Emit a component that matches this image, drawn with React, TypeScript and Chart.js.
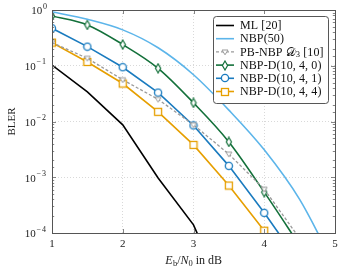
import React, { useEffect, useRef } from 'react';
import { Chart, registerables } from 'chart.js';

Chart.register(...registerables);

// ---- data ----
const snrDb = [1, 1.5, 2, 2.5, 3, 3.5, 4, 4.5, 5];
const mlBler = [0.103, 0.034, 0.0087, 0.00097, 0.00014, 0.000005];
const nbp50Bler = [0.93, 0.68, 0.44, 0.21, 0.069, 0.016, 0.0031, 0.0004, 0.000025];
const pbNbpBler = [0.26, 0.136, 0.056, 0.025, 0.0087, 0.0026, 0.00061, 0.00008];
const nbpD0Bler = [0.78, 0.54, 0.24, 0.09, 0.0216, 0.0043, 0.00054, 0.00006];
const nbpD1Bler = [0.47, 0.22, 0.094, 0.033, 0.0085, 0.0016, 0.00023, 0.000029];
const nbpD4Bler = [0.26, 0.117, 0.048, 0.0149, 0.0038, 0.00071, 0.00011];
const xTickValues = [1, 2, 3, 4, 5];
const yExponents = [0, -1, -2, -3, -4];
const seriesLabels = ['ML [20]', 'NBP(50)', 'PB-NBP 𝒟₃ [10]', 'NBP-D(10, 4, 0)', 'NBP-D(10, 4, 1)', 'NBP-D(10, 4, 4)'];

const SERIF = '"Liberation Serif", "DejaVu Serif", serif';

function toPoints(vals: number[]) {
  return vals.map((v, i) => ({ x: snrDb[i], y: v }));
}

function makeMarker(kind: string, color: string): HTMLCanvasElement {
  const c = document.createElement('canvas');
  const ctx = c.getContext('2d')!;
  if (kind === 'circle') {
    c.width = 10; c.height = 10;
    ctx.beginPath(); ctx.arc(5, 5, 3.6, 0, Math.PI * 2);
    ctx.fillStyle = '#fff'; ctx.fill();
    ctx.lineWidth = 1.3; ctx.strokeStyle = color; ctx.stroke();
  } else if (kind === 'square') {
    c.width = 10; c.height = 10;
    ctx.fillStyle = '#fff'; ctx.fillRect(1.5, 1.5, 7, 7);
    ctx.lineWidth = 1.3; ctx.strokeStyle = color; ctx.strokeRect(1.5, 1.5, 7, 7);
  } else if (kind === 'diamond') {
    c.width = 8; c.height = 11;
    ctx.beginPath(); ctx.moveTo(4, 1); ctx.lineTo(6.6, 5.5); ctx.lineTo(4, 10); ctx.lineTo(1.4, 5.5); ctx.closePath();
    ctx.fillStyle = '#fff'; ctx.fill();
    ctx.lineWidth = 1.2; ctx.strokeStyle = color; ctx.stroke();
  } else {
    c.width = 8; c.height = 8;
    ctx.beginPath(); ctx.moveTo(1, 2); ctx.lineTo(7, 2); ctx.lineTo(4, 6.8); ctx.closePath();
    ctx.fillStyle = '#fff'; ctx.fill();
    ctx.lineWidth = 1; ctx.strokeStyle = color; ctx.stroke();
  }
  return c;
}

const decorPlugin = {
  id: 'decor',
  afterDatasetsDraw(chart: any) {
    const { ctx, chartArea, scales } = chart;
    const { left, right, top, bottom } = chartArea;
    const ys = scales.y;
    const xs = scales.x;
    ctx.save();
    // inner ticks
    ctx.strokeStyle = '#666';
    ctx.lineWidth = 0.8;
    for (const t of ys.ticks) {
      const v = t.value;
      const e = Math.log10(v);
      const major = Math.abs(e - Math.round(e)) < 1e-6;
      const py = Math.round(ys.getPixelForValue(v)) + 0.5;
      const len = major ? 4 : 2.2;
      ctx.beginPath();
      ctx.moveTo(left, py); ctx.lineTo(left + len, py);
      ctx.moveTo(right, py); ctx.lineTo(right - len, py);
      ctx.stroke();
    }
    for (const xv of xTickValues) {
      const px = Math.round(xs.getPixelForValue(xv)) + 0.5;
      ctx.beginPath();
      ctx.moveTo(px, bottom); ctx.lineTo(px, bottom - 4);
      ctx.moveTo(px, top); ctx.lineTo(px, top + 4);
      ctx.stroke();
    }
    // frame
    ctx.strokeStyle = '#555';
    ctx.lineWidth = 1;
    ctx.strokeRect(Math.round(left) + 0.5, Math.round(top) + 0.5, Math.round(right - left), Math.round(bottom - top));

    // y tick labels
    ctx.fillStyle = '#222';
    ctx.textBaseline = 'middle';
    for (const e of yExponents) {
      const py = ys.getPixelForValue(Math.pow(10, e));
      const sup = e === 0 ? '0' : '\u2212' + String(-e);
      ctx.font = '8px ' + SERIF;
      (ctx as any).letterSpacing = e === 0 ? '0px' : '1px';
      const sw = ctx.measureText(sup).width;
      const supX = 47 - sw;
      ctx.textAlign = 'left';
      ctx.fillText(sup, supX, py - 3.5);
      (ctx as any).letterSpacing = '0px';
      ctx.font = '11px ' + SERIF;
      ctx.textAlign = 'right';
      ctx.fillText('10', supX - 0.8, py + 1.5);
    }

    // y title
    ctx.save();
    ctx.translate(12, (top + bottom) / 2);
    ctx.rotate(-Math.PI / 2);
    ctx.textAlign = 'center';
    ctx.font = '11px ' + SERIF;
    ctx.fillText('BLER', 0, 0);
    ctx.restore();

    // x title: E_b / N_0 in dB
    const parts: [string, string, number][] = [
      ['E', 'italic 12px ' + SERIF, 0],
      ['b', '8.5px ' + SERIF, 2.5],
      ['/', '12px ' + SERIF, 0],
      ['N', 'italic 12px ' + SERIF, 0],
      ['0', '8.5px ' + SERIF, 2.5],
      [' in dB', '12px ' + SERIF, 0],
    ];
    let total = 0;
    const widths: number[] = [];
    for (const [s, f] of parts) { ctx.font = f; const w = ctx.measureText(s).width; widths.push(w); total += w; }
    let cx = (left + right) / 2 - total / 2;
    const ty = 261;
    ctx.textAlign = 'left';
    parts.forEach(([s, f, dy], i) => {
      ctx.font = f;
      ctx.fillText(s, cx, ty + dy);
      cx += widths[i] + (i === 0 ? 0.3 : 0);
    });

    // legend
    const bx = 213.5, by = 16.5, bw = 115, bh = 87;
    ctx.beginPath();
    (ctx as any).roundRect(bx, by, bw, bh, 3);
    ctx.fillStyle = '#fff';
    ctx.fill();
    ctx.strokeStyle = '#444';
    ctx.lineWidth = 0.9;
    ctx.stroke();
    chart.data.datasets.forEach((ds: any, i: number) => {
      const ly = 25.5 + i * 13.2;
      ctx.save();
      ctx.strokeStyle = ds.borderColor;
      ctx.lineWidth = ds.borderWidth;
      ctx.setLineDash(ds.borderDash || []);
      ctx.beginPath();
      ctx.moveTo(216, ly); ctx.lineTo(234, ly);
      ctx.stroke();
      ctx.restore();
      if (ds.legendMarker) {
        const m = ds.legendMarker as HTMLCanvasElement;
        ctx.drawImage(m, Math.round(225 - m.width / 2), Math.round(ly - m.height / 2));
      }
      ctx.fillStyle = '#111';
      ctx.textAlign = 'left';
      ctx.textBaseline = 'middle';
      (ctx as any).letterSpacing = '0.1px';
      const label = seriesLabels[i];
      if (label.includes('𝒟')) {
        let tx = 240;
        const segs: [string, string, number][] = [
          ['PB-NBP ', '12px ' + SERIF, 0],
          ['\u{1D49F}', '12px "DejaVu Sans", "DejaVu Serif", serif', 0],
          ['3', '8.5px ' + SERIF, 2.5],
          [' [10]', '12px ' + SERIF, 0],
        ];
        for (const [s, f, dy] of segs) {
          ctx.font = f;
          ctx.fillText(s, tx, ly + 0.5 + dy);
          tx += ctx.measureText(s).width;
        }
      } else {
        ctx.font = '12px ' + SERIF;
        ctx.fillText(label, 240, ly + 0.5);
      }
      (ctx as any).letterSpacing = '0px';
    });
    ctx.restore();
  },
};

export default function App() {
  const ref = useRef<HTMLCanvasElement | null>(null);
  useEffect(() => {
    const canvas = ref.current!;
    const colors = {
      ml: '#000000',
      nbp50: '#5cb5ea',
      pb: '#9a9a9a',
      d0: '#13703a',
      d1: '#1a7bbf',
      d4: '#e69f00',
    };
    const mk = {
      pb: makeMarker('triangle', colors.pb),
      d0: makeMarker('diamond', colors.d0),
      d1: makeMarker('circle', colors.d1),
      d4: makeMarker('square', colors.d4),
    };
    const base = { fill: false, pointHoverRadius: 0 };
    const chart = new Chart(canvas, {
      type: 'line',
      data: {
        datasets: [
          { ...base, label: seriesLabels[0], data: toPoints(mlBler), borderColor: colors.ml, borderWidth: 1.6, pointRadius: 0, tension: 0 },
          { ...base, label: seriesLabels[1], data: toPoints(nbp50Bler), borderColor: colors.nbp50, borderWidth: 1.6, pointRadius: 0, cubicInterpolationMode: 'monotone' },
          { ...base, label: seriesLabels[2], data: toPoints(pbNbpBler), borderColor: colors.pb, borderWidth: 1.3, borderDash: [3, 2], pointRadius: 3, pointStyle: mk.pb, legendMarker: mk.pb, tension: 0 },
          { ...base, label: seriesLabels[3], data: toPoints(nbpD0Bler), borderColor: colors.d0, borderWidth: 1.6, pointRadius: 3, pointStyle: mk.d0, legendMarker: mk.d0, cubicInterpolationMode: 'monotone' },
          { ...base, label: seriesLabels[4], data: toPoints(nbpD1Bler), borderColor: colors.d1, borderWidth: 1.6, pointRadius: 3, pointStyle: mk.d1, legendMarker: mk.d1, tension: 0 },
          { ...base, label: seriesLabels[5], data: toPoints(nbpD4Bler), borderColor: colors.d4, borderWidth: 1.6, pointRadius: 3, pointStyle: mk.d4, legendMarker: mk.d4, tension: 0 },
        ] as any,
      },
      options: {
        animation: false,
        responsive: false,
        events: [],
        layout: { padding: { left: 0, top: 10, right: 8, bottom: 0 } },
        plugins: { legend: { display: false }, tooltip: { enabled: false } },
        scales: {
          x: {
            type: 'linear',
            min: 1,
            max: 5,
            afterFit: (s: any) => { s.height = 39; },
            afterBuildTicks: (s: any) => { s.ticks = xTickValues.map((v) => ({ value: v })); },
            ticks: { color: '#222', font: { family: SERIF, size: 11 }, padding: 5, autoSkip: false, maxRotation: 0 },
            grid: {
              drawTicks: false,
              color: (c: any) => (c.tick && (c.tick.value === 1 || c.tick.value === 5) ? 'rgba(0,0,0,0)' : '#cfcfcf'),
              lineWidth: 0.8,
            },
            border: { display: false, dash: [1, 2] },
          },
          y: {
            type: 'logarithmic',
            min: 1e-4,
            max: 1,
            afterFit: (s: any) => { s.width = 52; },
            ticks: { display: false, autoSkip: false },
            grid: {
              drawTicks: false,
              color: (c: any) => {
                const v = c.tick ? c.tick.value : 0;
                const e = Math.log10(v);
                const major = Math.abs(e - Math.round(e)) < 1e-6;
                return major && v !== 1 && v !== 1e-4 ? '#cfcfcf' : 'rgba(0,0,0,0)';
              },
              lineWidth: 0.8,
            },
            border: { display: false, dash: [1, 2] },
          },
        },
      },
      plugins: [decorPlugin],
    });
    return () => chart.destroy();
  }, []);
  return (
    <div style={{ position: 'fixed', left: 0, top: 0, width: 343, height: 272, background: '#fff' }}>
      <canvas ref={ref} width={343} height={272} />
    </div>
  );
}
